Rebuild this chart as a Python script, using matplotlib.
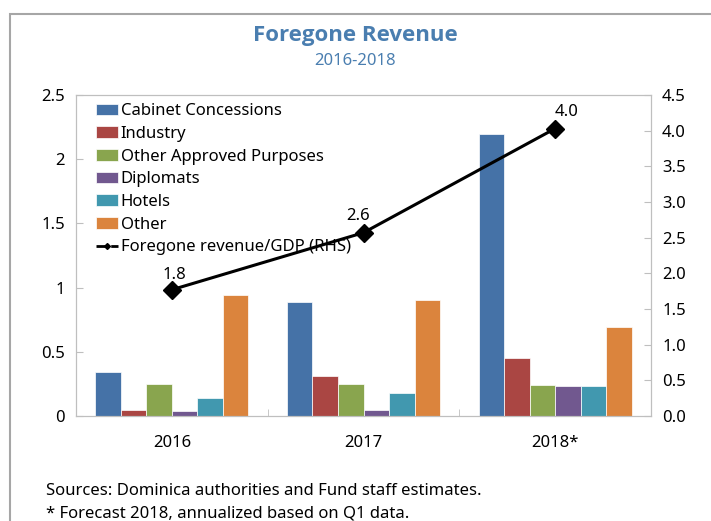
import matplotlib.pyplot as plt
import numpy as np
from matplotlib.lines import Line2D
from matplotlib.patches import Rectangle

plt.rcParams['font.family'] = ['Noto Sans', 'DejaVu Sans']

# Data
years = ["2016", "2017", "2018*"]
series_names = ["Cabinet Concessions", "Industry", "Other Approved Purposes",
                "Diplomats", "Hotels", "Other"]
cabinet = [0.34, 0.89, 2.20]
industry = [0.05, 0.31, 0.45]
other_approved = [0.25, 0.25, 0.24]
diplomats = [0.04, 0.05, 0.23]
hotels = [0.14, 0.18, 0.23]
other = [0.94, 0.90, 0.69]
gdp_ratio = [1.77, 2.57, 4.03]
gdp_labels = ["1.8", "2.6", "4.0"]

colors = ["#4572A7", "#AA4643", "#89A54E", "#71588F", "#4198AF", "#DB843D"]
title_color = "#4A7EB0"

fig = plt.figure(figsize=(7.11, 5.21), dpi=100)
fig.patches.append(Rectangle((10 / 711, -0.1), 1.2, 1 - 14 / 521 + 0.1,
                             transform=fig.transFigure, fill=False,
                             edgecolor="#a6a6a6", linewidth=1.5))

ax = fig.add_axes([76 / 711, 105 / 521, 575 / 711, 321 / 521])
x = np.arange(len(years))
width = 0.8 / 6
all_series = [cabinet, industry, other_approved, diplomats, hotels, other]
for i, (vals, name, c) in enumerate(zip(all_series, series_names, colors)):
    ax.bar(x - 0.4 + width * (i + 0.5), vals, width, color=c, label=name,
           edgecolor="white", linewidth=0.5)

ax.set_xlim(-0.5, 2.5)
ax.set_ylim(0, 2.5)
ax.set_yticks([0, 0.5, 1, 1.5, 2, 2.5])
ax.set_yticklabels(["0", "0.5", "1", "1.5", "2", "2.5"])
ax.set_xticks(x)
ax.set_xticklabels(years)
ax.set_xticks([0.5, 1.5], minor=True)
ax.tick_params(axis="x", which="major", length=0, pad=14, labelsize=12)
ax.tick_params(axis="x", which="minor", length=5, direction="in", color="#bfbfbf")
ax.tick_params(axis="y", direction="in", length=5, color="#bfbfbf", labelsize=12, pad=8)
for s in ax.spines.values():
    s.set_color("#bfbfbf")

ax2 = ax.twinx()
ax2.plot(x, gdp_ratio, color="black", linewidth=2.2, marker="D", markersize=9)
ax2.set_ylim(0, 4.5)
ax2.set_yticks(np.arange(0, 4.51, 0.5))
ax2.set_yticklabels([f"{v:.1f}" for v in np.arange(0, 4.51, 0.5)])
ax2.tick_params(axis="y", direction="in", length=5, color="#bfbfbf", labelsize=12, pad=8)
for s in ax2.spines.values():
    s.set_color("#bfbfbf")
offsets = [(2, 5), (-4, 6), (8, 6)]
for xi, yi, lab, off in zip(x, gdp_ratio, gdp_labels, offsets):
    ax2.annotate(lab, (xi, yi), textcoords="offset points", xytext=off,
                 ha="center", va="bottom", fontsize=12)

handles, labels = ax.get_legend_handles_labels()
handles.append(Line2D([0], [0], color="black", linewidth=2, linestyle="--",
                      marker="D", markersize=3))
labels.append("Foregone revenue/GDP (RHS)")
ax.legend(handles, labels, loc="upper left", frameon=False, fontsize=12,
          handlelength=1.3, handleheight=0.7, handletextpad=0.2,
          labelspacing=0.4, borderaxespad=0.1, bbox_to_anchor=(0.02, 1.0))

fig.text(0.5, 1 - 35 / 521, "Foregone Revenue", ha="center", va="center",
         fontsize=16, fontweight="bold", color=title_color,
         family=["Open Sans", "DejaVu Sans"])
fig.text(0.5, 1 - 61 / 521, "2016-2018", ha="center", va="center",
         fontsize=12, color=title_color)
fig.text(46 / 711, 1 - 491 / 521, "Sources: Dominica authorities and Fund staff estimates.",
         ha="left", va="center", fontsize=12)
fig.text(46 / 711, 1 - 514 / 521, "* Forecast 2018, annualized based on Q1 data.",
         ha="left", va="center", fontsize=12)

fig.savefig("out.png", dpi=100)
